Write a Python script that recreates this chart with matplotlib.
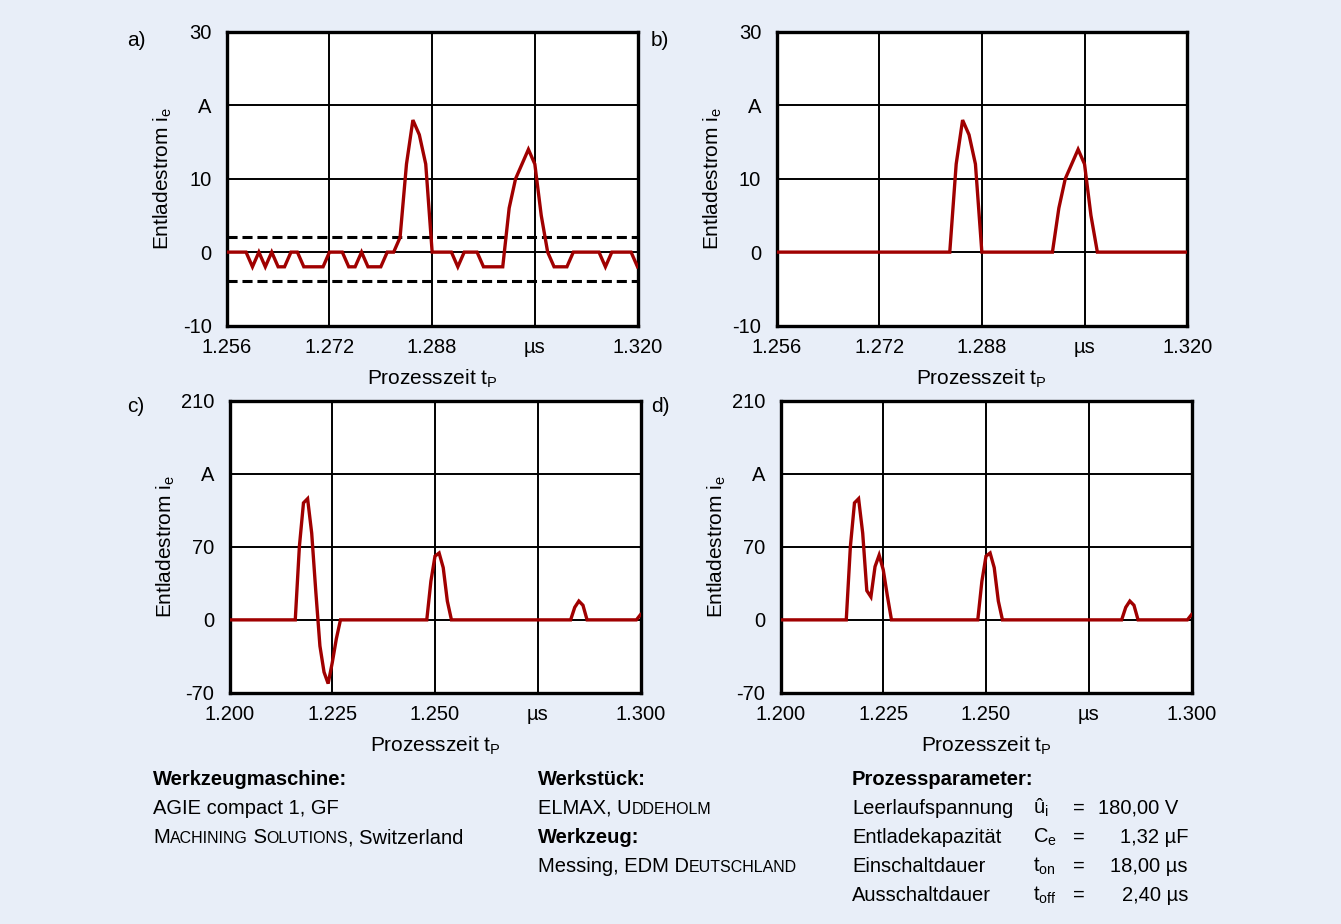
import numpy as np
import matplotlib
matplotlib.use("Agg")
import matplotlib.pyplot as plt

plt.rcParams['font.family'] = ['Liberation Sans', 'DejaVu Sans']
plt.rcParams['mathtext.fontset'] = 'custom'
plt.rcParams['mathtext.rm'] = 'Liberation Sans'

W, H = 1341, 924
BG = '#e8eef8'
RED = '#a00000'

# panels a/b: sampling every 1 ns
t_ab = np.arange(1256, 1321) / 1000.0
i_a = [0, 0, 0, 0, -2, 0, -2, 0, -2, -2, 0, 0, -2, -2, -2, -2, 0, 0, 0, -2,
       -2, 0, -2, -2, -2, 0, 0, 2, 12, 18, 16, 12, 0, 0, 0, 0, -2, 0, 0, 0,
       -2, -2, -2, -2, 6, 10, 12, 14, 12, 5, 0, -2, -2, -2, 0, 0, 0, 0, 0, -2,
       0, 0, 0, 0, -2]
i_b = [0, 0, 0, 0, 0, 0, 0, 0, 0, 0, 0, 0, 0, 0, 0, 0, 0, 0, 0, 0,
       0, 0, 0, 0, 0, 0, 0, 0, 12, 18, 16, 12, 0, 0, 0, 0, 0, 0, 0, 0,
       0, 0, 0, 0, 6, 10, 12, 14, 12, 5, 0, 0, 0, 0, 0, 0, 0, 0, 0, 0,
       0, 0, 0, 0, 0]
thresholds_a = [2, -4]

# panels c/d
t_cd = np.arange(1200, 1301) / 1000.0
i_c = [0] * 17 + [70, 112, 116, 83, 27, -25, -50, -61, -41, -18] + [0] * 22 + \
      [37, 61, 64, 50, 18] + [0] * 30 + [12, 18, 14] + [0] * 13 + [5]
i_d = [0] * 17 + [70, 112, 116, 83, 28, 22, 51, 62, 48, 23] + [0] * 22 + \
      [37, 61, 64, 50, 18] + [0] * 30 + [12, 18, 14] + [0] * 13 + [5]

xt_ab = [1.256, 1.272, 1.288, 1.304, 1.320]
xl_ab = ['1.256', '1.272', '1.288', 'µs', '1.320']
yt_ab = [-10, 0, 10, 20, 30]
yl_ab = ['-10', '0', '10', 'A', '30']
xt_cd = [1.200, 1.225, 1.250, 1.275, 1.300]
xl_cd = ['1.200', '1.225', '1.250', 'µs', '1.300']
yt_cd = [-70, 0, 70, 140, 210]
yl_cd = ['-70', '0', '70', 'A', '210']


def fx(x):
    return x / W


def fy(y):
    return 1 - y / H


fig = plt.figure(figsize=(W / 100, H / 100), dpi=100)
fig.patch.set_facecolor(BG)


def panel(rect, t, i, xt, xl, yt, yl, letter, letter_xy, dashed=None):
    ax = fig.add_axes(rect)
    ax.set_facecolor('white')
    ax.set_xlim(xt[0], xt[-1])
    ax.set_ylim(yt[0], yt[-1])
    ax.set_xticks(xt)
    ax.set_xticklabels(xl)
    ax.set_yticks(yt)
    ax.set_yticklabels(yl)
    ax.tick_params(length=0, labelsize=14.5)
    ax.tick_params(axis='y', pad=11)
    ax.tick_params(axis='x', pad=9)
    ax.grid(True, color='black', lw=1.4)
    ax.set_axisbelow(True)
    for s in ax.spines.values():
        s.set_linewidth(2.4)
    if dashed:
        for d in dashed:
            ax.axhline(d, color='black', lw=2.2, dashes=(3.3, 1.6), zorder=3)
    ax.plot(t, i, color=RED, lw=2.4, zorder=4, solid_joinstyle='miter')
    ax.text(-0.155, 0.5, r'Entladestrom i$_\mathregular{e}$', rotation=90,
            transform=ax.transAxes, ha='center', va='center', fontsize=15)
    ax.text(0.5, -0.18, r'Prozesszeit t$_\mathregular{P}$',
            transform=ax.transAxes, ha='center', va='center', fontsize=15)
    fig.text(fx(letter_xy[0]), fy(letter_xy[1]), letter, ha='left',
             va='center', fontsize=15)
    return ax


panel([fx(226.8), fy(325.5), fx(410.7), 293.5 / H], t_ab, i_a, xt_ab, xl_ab,
      yt_ab, yl_ab, 'a)', (127, 41), thresholds_a)
panel([fx(776.5), fy(325.5), fx(410.7), 293.5 / H], t_ab, i_b, xt_ab, xl_ab,
      yt_ab, yl_ab, 'b)', (651, 41))
panel([fx(229.5), fy(693), fx(411), 292.5 / H], t_cd, i_c, xt_cd, xl_cd,
      yt_cd, yl_cd, 'c)', (127, 407))
panel([fx(780.5), fy(693), fx(411), 292.5 / H], t_cd, i_d, xt_cd, xl_cd,
      yt_cd, yl_cd, 'd)', (651, 407))

# bottom info block
BIG, SMALL = 14.5, 11.5
renderer = fig.canvas.get_renderer()


def rich(x, y, parts):
    # draws text pieces of different sizes one after another on one baseline
    x = fx(x)
    for s, size in parts:
        t = fig.text(x, fy(y), s, fontsize=size, va='baseline', ha='left')
        bb = t.get_window_extent(renderer)
        x = fig.transFigure.inverted().transform((bb.x1, bb.y0))[0]


fig.text(fx(153), fy(785), 'Werkzeugmaschine:', fontsize=BIG, weight='bold', va='baseline')
fig.text(fx(153), fy(814), 'AGIE compact 1, GF', fontsize=BIG, va='baseline')
rich(153, 843, [('M', BIG), ('ACHINING', SMALL), (' S', BIG), ('OLUTIONS', SMALL),
                (', Switzerland', BIG)])

fig.text(fx(538), fy(785), 'Werkstück:', fontsize=BIG, weight='bold', va='baseline')
rich(538, 814, [('ELMAX, U', BIG), ('DDEHOLM', SMALL)])
fig.text(fx(538), fy(843), 'Werkzeug:', fontsize=BIG, weight='bold', va='baseline')
rich(538, 872, [('Messing, EDM D', BIG), ('EUTSCHLAND', SMALL)])

fig.text(fx(852), fy(785), 'Prozessparameter:', fontsize=BIG, weight='bold', va='baseline')
param_names = ['Leerlaufspannung', 'Entladekapazität', 'Einschaltdauer', 'Ausschaltdauer']
param_syms = [r'û$_\mathregular{i}$', r'C$_\mathregular{e}$', r't$_\mathregular{on}$',
              r't$_\mathregular{off}$']
param_vals = ['180,00 V', '1,32 µF', '18,00 µs', '2,40 µs']
val_right = [1178, 1188, 1188, 1188]
for k in range(4):
    yb = 814 + 29 * k
    fig.text(fx(852), fy(yb), param_names[k], fontsize=BIG, va='baseline')
    fig.text(fx(1033), fy(yb), param_syms[k], fontsize=BIG, va='baseline')
    fig.text(fx(1073), fy(yb), '=', fontsize=BIG, va='baseline')
    fig.text(fx(val_right[k]), fy(yb), param_vals[k], fontsize=BIG, va='baseline', ha='right')

fig.savefig('out.png', dpi=100, facecolor=BG)
